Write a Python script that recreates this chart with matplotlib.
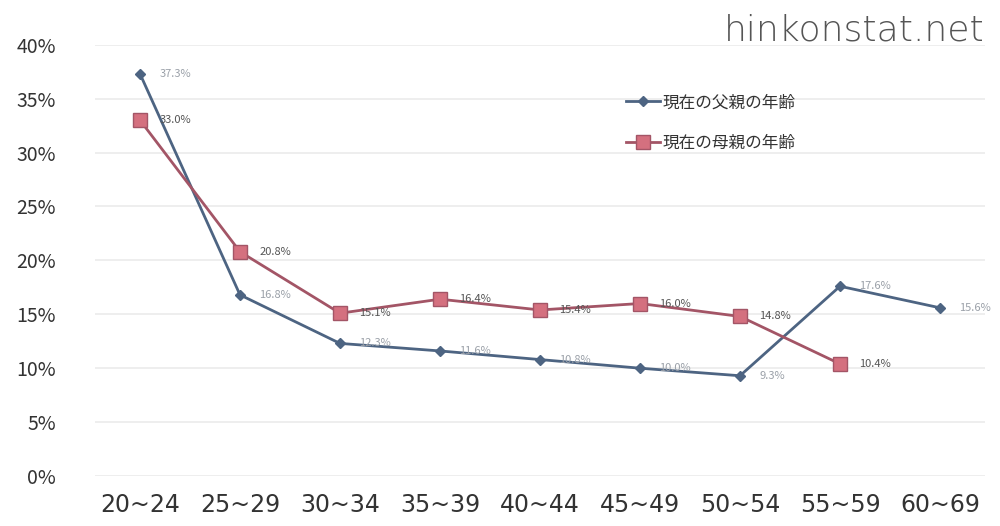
import matplotlib

matplotlib.use("Agg")
import matplotlib.pyplot as plt
from matplotlib.ticker import FuncFormatter, MultipleLocator

plt.rcParams["font.family"] = ["Noto Sans CJK JP", "DejaVu Sans"]

age_groups = ["20~24", "25~29", "30~34", "35~39", "40~44", "45~49", "50~54", "55~59", "60~69"]
father_pct = [37.3, 16.8, 12.3, 11.6, 10.8, 10.0, 9.3, 17.6, 15.6]
mother_pct = [33.0, 20.8, 15.1, 16.4, 15.4, 16.0, 14.8, 10.4]

father_label = "現在の父親の年齢"
mother_label = "現在の母親の年齢"

FATHER_COLOR = "#4d6482"
MOTHER_COLOR = "#a35566"
MOTHER_FACE = "#d4707f"

fig = plt.figure(figsize=(10, 5.26), dpi=100)
ax = fig.add_axes([0.095, 0.095, 0.89, 0.82])

xf = list(range(len(father_pct)))
xm = list(range(len(mother_pct)))

ax.plot(xf, father_pct, "-", color=FATHER_COLOR, lw=2.0, marker="D", ms=5,
        mfc=FATHER_COLOR, mec=FATHER_COLOR, label=father_label, zorder=3)
ax.plot(xm, mother_pct, "-", color=MOTHER_COLOR, lw=2.0, marker="s", ms=10,
        mfc=MOTHER_FACE, mec=MOTHER_COLOR, label=mother_label, zorder=4)

# value labels to the right of each point
for x, v in zip(xf, father_pct):
    ax.annotate(f"{v:.1f}%", (x, v), xytext=(14, 0), textcoords="offset points",
                va="center", ha="left", fontsize=8, color="#9aa0a8", zorder=5)
for x, v in zip(xm, mother_pct):
    ax.annotate(f"{v:.1f}%", (x, v), xytext=(14, 0), textcoords="offset points",
                va="center", ha="left", fontsize=8, color="#555555", zorder=5)

ax.set_ylim(0, 40)
ax.set_xlim(-0.45, 8.45)
ax.yaxis.set_major_locator(MultipleLocator(5))
ax.yaxis.set_major_formatter(FuncFormatter(lambda v, _: f"{v:.0f}%"))
ax.set_xticks(range(len(age_groups)))
ax.set_xticklabels(age_groups, fontsize=17, color="#333333", family="DejaVu Sans")
ax.tick_params(axis="y", labelsize=14, colors="#333333", length=0, pad=28)
ax.tick_params(axis="x", length=0, pad=12)

ax.grid(axis="y", color="#ebebeb", lw=1.2)
ax.set_axisbelow(True)
for s in ax.spines.values():
    s.set_visible(False)

leg = ax.legend(loc="upper left", bbox_to_anchor=(0.58, 0.92), frameon=False,
                fontsize=12, handlelength=2.0, labelspacing=1.4, handletextpad=0.2)
for t in leg.get_texts():
    t.set_color("#333333")

fig.text(0.985, 0.975, "hinkonstat.net", ha="right", va="top", fontsize=26,
         color="#555555", family="DejaVu Sans", fontweight="light")

fig.savefig("out.png", dpi=100, facecolor="white")
